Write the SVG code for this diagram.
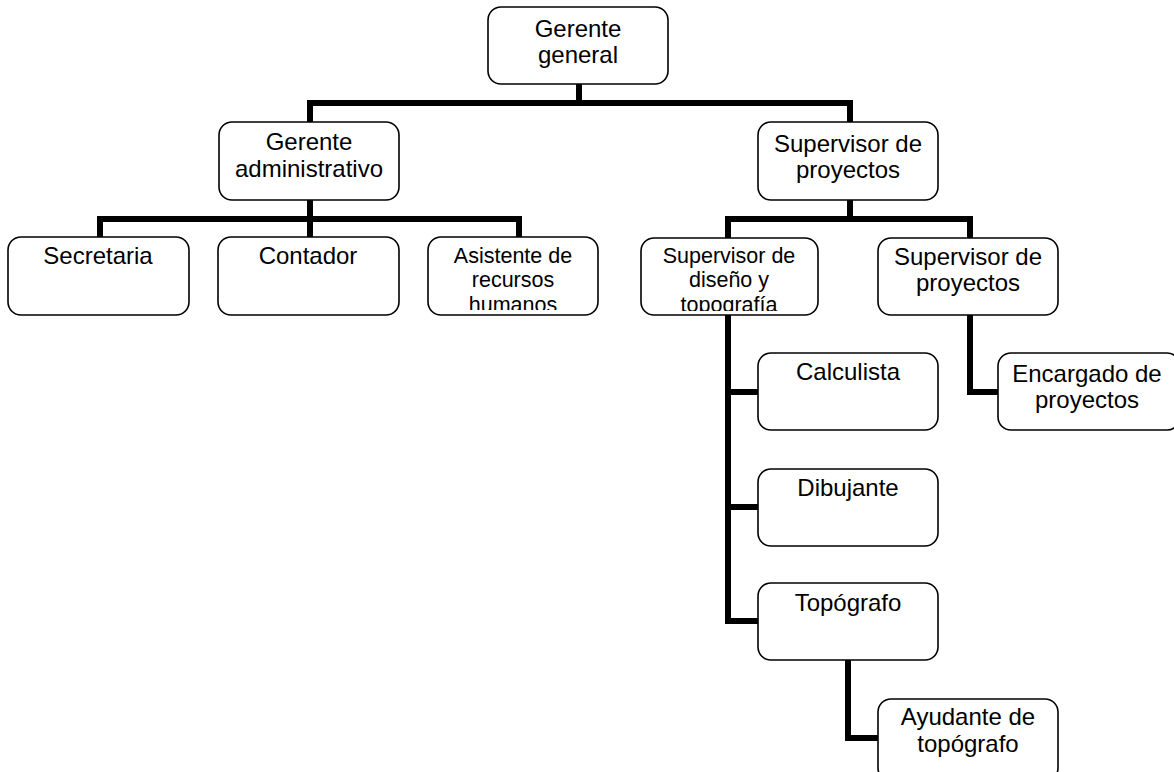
<svg xmlns="http://www.w3.org/2000/svg" width="1174" height="772" viewBox="0 0 1174 772">
<style>
.box{fill:#fff;stroke:#000;stroke-width:1.6}
.t{font-family:"Liberation Sans",Arial,sans-serif;font-size:24px;fill:#000;text-anchor:middle}
.s{font-family:"Liberation Sans",Arial,sans-serif;font-size:21.5px;fill:#000;text-anchor:middle}
.c{fill:none;stroke:#000;stroke-width:6;stroke-linejoin:miter;stroke-linecap:square}
</style>
<defs>
<clipPath id="clipA"><rect x="428" y="237" width="170" height="73"/></clipPath>
<clipPath id="clipD"><rect x="641" y="238" width="177" height="73"/></clipPath>
</defs>
<rect width="1174" height="772" fill="#fff"/>
<g id="connectors">
<path class="c" d="M579 86V103M310 122V103H850V122"/>
<path class="c" d="M310 202V219M100 236V219H519V236M310 219V236"/>
<path class="c" d="M850 202V219M728 237V219H970V237"/>
<path class="c" d="M728 317V621H757M728 392H757M728 507H757"/>
<path class="c" d="M970 317V392H997"/>
<path class="c" d="M848 662V738H877"/>
</g>
<g id="gerente-general">
<rect class="box" x="488" y="7" width="180" height="77" rx="13"/>
<text class="t" x="578" y="37">Gerente</text>
<text class="t" x="578" y="63">general</text>
</g>
<g id="gerente-administrativo">
<rect class="box" x="219" y="122" width="180" height="78" rx="13"/>
<text class="t" x="309" y="150">Gerente</text>
<text class="t" x="309" y="177">administrativo</text>
</g>
<g id="supervisor-proyectos">
<rect class="box" x="758" y="122" width="180" height="78" rx="13"/>
<text class="t" x="848" y="152">Supervisor de</text>
<text class="t" x="848" y="178">proyectos</text>
</g>
<g id="secretaria">
<rect class="box" x="8" y="237" width="181" height="78" rx="13"/>
<text class="t" x="98" y="264">Secretaria</text>
</g>
<g id="contador">
<rect class="box" x="218" y="237" width="181" height="78" rx="13"/>
<text class="t" x="308" y="264">Contador</text>
</g>
<g id="asistente">
<rect class="box" x="428" y="237" width="170" height="78" rx="13"/>
<g clip-path="url(#clipA)">
<text class="s" x="513" y="263">Asistente de</text>
<text class="s" x="513" y="287">recursos</text>
<text class="s" x="513" y="312">humanos</text>
</g>
</g>
<g id="supervisor-diseno">
<rect class="box" x="641" y="238" width="177" height="77" rx="13"/>
<g clip-path="url(#clipD)">
<text class="s" x="729" y="263">Supervisor de</text>
<text class="s" x="729" y="287">diseño y</text>
<text class="s" x="729" y="312">topografía</text>
</g>
</g>
<g id="supervisor-proyectos-2">
<rect class="box" x="878" y="238" width="180" height="77" rx="13"/>
<text class="t" x="968" y="265">Supervisor de</text>
<text class="t" x="968" y="291">proyectos</text>
</g>
<g id="calculista">
<rect class="box" x="758" y="353" width="180" height="77" rx="13"/>
<text class="t" x="848" y="380">Calculista</text>
</g>
<g id="encargado">
<rect class="box" x="998" y="353" width="182" height="77" rx="13"/>
<text class="t" x="1087" y="382">Encargado de</text>
<text class="t" x="1087" y="408">proyectos</text>
</g>
<g id="dibujante">
<rect class="box" x="758" y="469" width="180" height="77" rx="13"/>
<text class="t" x="848" y="496">Dibujante</text>
</g>
<g id="topografo">
<rect class="box" x="758" y="583" width="180" height="77" rx="13"/>
<text class="t" x="848" y="611">Topógrafo</text>
</g>
<g id="ayudante">
<rect class="box" x="878" y="699" width="180" height="82" rx="13"/>
<text class="t" x="968" y="725">Ayudante de</text>
<text class="t" x="968" y="752">topógrafo</text>
</g>
</svg>
